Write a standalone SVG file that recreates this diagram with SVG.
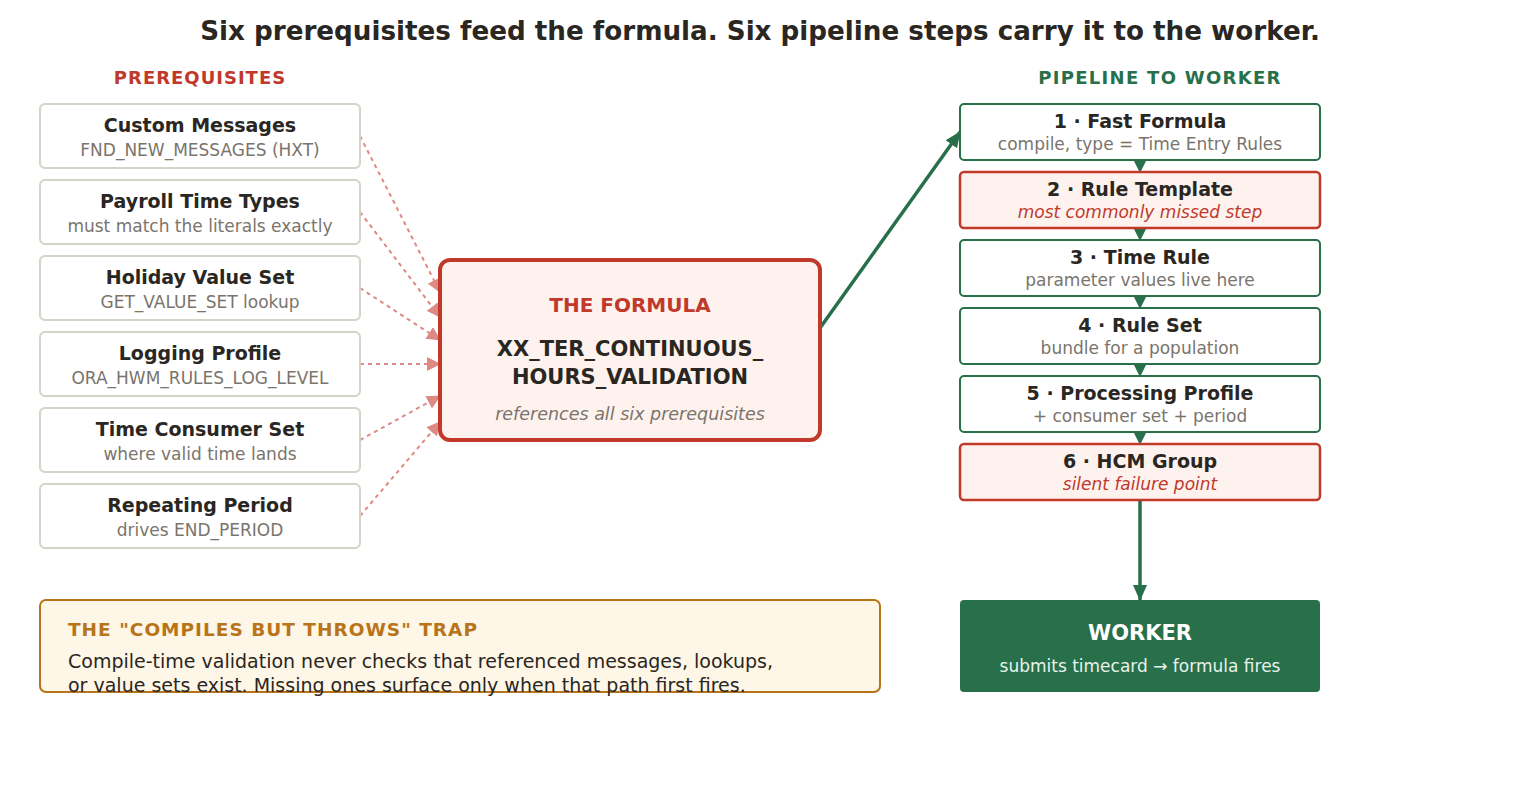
<svg xmlns="http://www.w3.org/2000/svg" width="1520" height="800" viewBox="0 0 1520 800">
<defs>
<style>
text{font-family:"DejaVu Sans","Liberation Sans",sans-serif;text-anchor:middle}
.pre rect{fill:#fff;stroke:#d6d2c8;stroke-width:2}
.t{font-size:19px;font-weight:bold;fill:#2a2622}
.s{font-size:17px;fill:#7a746c}
.pipe rect{fill:#fff;stroke:#27704a;stroke-width:2}
.pipe.red rect{fill:#fdf2ee;stroke:#c0392b;stroke-width:2.5}
.red .s{fill:#c0392b;font-style:italic}
.dash{stroke:#de8a84;stroke-width:2;stroke-dasharray:4 4;fill:none}
</style>
<marker id="ma" markerWidth="14" markerHeight="14" refX="13" refY="7" orient="auto" markerUnits="userSpaceOnUse"><path d="M0,0L14,7L0,14z" fill="#de8a84"/></marker>
<marker id="mg" markerWidth="16" markerHeight="16" refX="15" refY="8" orient="auto" markerUnits="userSpaceOnUse"><path d="M0,1L16,8L0,15z" fill="#27704a"/></marker>
<marker id="ms" markerWidth="12" markerHeight="12" refX="11" refY="6" orient="auto" markerUnits="userSpaceOnUse"><path d="M0,0L12,6L0,12z" fill="#27704a"/></marker>
</defs>
<rect width="1520" height="800" fill="#fff"/>
<text x="760" y="40" style="font-size:26.2px;font-weight:bold;fill:#2a2622">Six prerequisites feed the formula. Six pipeline steps carry it to the worker.</text>
<text x="200" y="84" style="font-size:18px;font-weight:bold;fill:#c0392b;letter-spacing:1px">PREREQUISITES</text>
<text x="1160" y="84" style="font-size:18px;font-weight:bold;fill:#27704a;letter-spacing:1.3px">PIPELINE TO WORKER</text>

<g id="connectors">
<line class="dash" x1="360" y1="136" x2="440" y2="292" marker-end="url(#ma)"/>
<line class="dash" x1="360" y1="212" x2="440" y2="317" marker-end="url(#ma)"/>
<line class="dash" x1="360" y1="288" x2="440" y2="340" marker-end="url(#ma)"/>
<line class="dash" x1="360" y1="364" x2="440" y2="364" marker-end="url(#ma)"/>
<line class="dash" x1="360" y1="440" x2="440" y2="396" marker-end="url(#ma)"/>
<line class="dash" x1="360" y1="516" x2="440" y2="422" marker-end="url(#ma)"/>
<line x1="820" y1="328" x2="960" y2="132" stroke="#27704a" stroke-width="3.5" marker-end="url(#mg)"/>
<line x1="1140" y1="160" x2="1140" y2="172" stroke="#27704a" stroke-width="2" marker-end="url(#ms)"/>
<line x1="1140" y1="228" x2="1140" y2="240" stroke="#27704a" stroke-width="2" marker-end="url(#ms)"/>
<line x1="1140" y1="296" x2="1140" y2="308" stroke="#27704a" stroke-width="2" marker-end="url(#ms)"/>
<line x1="1140" y1="364" x2="1140" y2="376" stroke="#27704a" stroke-width="2" marker-end="url(#ms)"/>
<line x1="1140" y1="432" x2="1140" y2="444" stroke="#27704a" stroke-width="2" marker-end="url(#ms)"/>
<line x1="1140" y1="500" x2="1140" y2="600" stroke="#27704a" stroke-width="3.5" marker-end="url(#mg)"/>
</g>

<g id="p1" class="pre"><rect x="40" y="104" width="320" height="64" rx="5"/><text class="t" x="200" y="132">Custom Messages</text><text class="s" x="200" y="156">FND_NEW_MESSAGES (HXT)</text></g>
<g id="p2" class="pre"><rect x="40" y="180" width="320" height="64" rx="5"/><text class="t" x="200" y="208">Payroll Time Types</text><text class="s" x="200" y="232">must match the literals exactly</text></g>
<g id="p3" class="pre"><rect x="40" y="256" width="320" height="64" rx="5"/><text class="t" x="200" y="284">Holiday Value Set</text><text class="s" x="200" y="308">GET_VALUE_SET lookup</text></g>
<g id="p4" class="pre"><rect x="40" y="332" width="320" height="64" rx="5"/><text class="t" x="200" y="360">Logging Profile</text><text class="s" x="200" y="384">ORA_HWM_RULES_LOG_LEVEL</text></g>
<g id="p5" class="pre"><rect x="40" y="408" width="320" height="64" rx="5"/><text class="t" x="200" y="436">Time Consumer Set</text><text class="s" x="200" y="460">where valid time lands</text></g>
<g id="p6" class="pre"><rect x="40" y="484" width="320" height="64" rx="5"/><text class="t" x="200" y="512">Repeating Period</text><text class="s" x="200" y="536">drives END_PERIOD</text></g>

<g id="formula">
<rect x="440" y="260" width="380" height="180" rx="10" fill="#fdf2ee" stroke="#c0392b" stroke-width="4"/>
<text x="630" y="312" style="font-size:20px;font-weight:bold;fill:#c0392b">THE FORMULA</text>
<text x="630" y="356" style="font-size:21px;font-weight:bold;fill:#2a2622">XX_TER_CONTINUOUS_</text>
<text x="630" y="384" style="font-size:21px;font-weight:bold;fill:#2a2622">HOURS_VALIDATION</text>
<text x="630" y="420" style="font-size:17.5px;font-style:italic;fill:#7a746c">references all six prerequisites</text>
</g>

<g id="s1" class="pipe"><rect x="960" y="104" width="360" height="56" rx="4"/><text class="t" x="1140" y="128">1 · Fast Formula</text><text class="s" x="1140" y="150">compile, type = Time Entry Rules</text></g>
<g id="s2" class="pipe red"><rect x="960" y="172" width="360" height="56" rx="4"/><text class="t" x="1140" y="196">2 · Rule Template</text><text class="s" x="1140" y="218">most commonly missed step</text></g>
<g id="s3" class="pipe"><rect x="960" y="240" width="360" height="56" rx="4"/><text class="t" x="1140" y="264">3 · Time Rule</text><text class="s" x="1140" y="286">parameter values live here</text></g>
<g id="s4" class="pipe"><rect x="960" y="308" width="360" height="56" rx="4"/><text class="t" x="1140" y="332">4 · Rule Set</text><text class="s" x="1140" y="354">bundle for a population</text></g>
<g id="s5" class="pipe"><rect x="960" y="376" width="360" height="56" rx="4"/><text class="t" x="1140" y="400">5 · Processing Profile</text><text class="s" x="1140" y="422">+ consumer set + period</text></g>
<g id="s6" class="pipe red"><rect x="960" y="444" width="360" height="56" rx="4"/><text class="t" x="1140" y="468">6 · HCM Group</text><text class="s" x="1140" y="490">silent failure point</text></g>

<g id="worker">
<rect x="960" y="600" width="360" height="92" rx="4" fill="#27704a"/>
<text x="1140" y="640" style="font-size:21px;font-weight:bold;fill:#fff">WORKER</text>
<text x="1140" y="672" style="font-size:17px;fill:#e8f2ec">submits timecard → formula fires</text>
</g>

<g id="trap">
<rect x="40" y="600" width="840" height="92" rx="6" fill="#fef6e6" stroke="#b87418" stroke-width="2"/>
<text x="68" y="636" style="text-anchor:start;font-size:18.5px;font-weight:bold;fill:#b87418;letter-spacing:1px">THE "COMPILES BUT THROWS" TRAP</text>
<text x="68" y="668" style="text-anchor:start;font-size:19px;fill:#2a2622">Compile-time validation never checks that referenced messages, lookups,</text>
<text x="68" y="692" style="text-anchor:start;font-size:19px;fill:#2a2622">or value sets exist. Missing ones surface only when that path first fires.</text>
</g>
</svg>
